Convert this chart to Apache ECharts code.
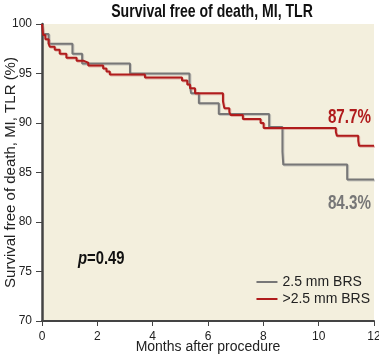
<!DOCTYPE html>
<html><head><meta charset="utf-8">
<script src="https://cdn.jsdelivr.net/npm/echarts@6/dist/echarts.min.js"></script>
<style>html,body{margin:0;padding:0;background:#fff}#c{width:379px;height:359px}</style>
</head><body><div id="c"></div>
<script>
// Kaplan-Meier steps: [month, survival %], value held until next month
var smallMonths = [0, 0.03, 0.24, 1.1, 1.45, 3.18, 5.33, 5.39, 5.67, 6.39, 8.21, 8.69, 8.72, 11.03, 12];
var smallValues = [100, 99.0, 98.0, 97.0, 96.0, 95.0, 94.0, 93.0, 92.0, 90.9, 89.6, 87.1, 85.8, 84.3, 84.3];
var largeMonths = [0, 0.04, 0.12, 0.24, 0.28, 0.46, 0.64, 0.88, 1.25, 1.49, 1.67, 2.21, 2.33, 2.45, 3.72, 5.06, 5.25, 5.35, 5.53, 6.54, 6.59, 6.77, 6.82, 7.26, 7.9, 8.01, 10.62, 10.66, 11.43, 11.46, 12];
var largeValues = [100, 98.9, 98.45, 98.0, 97.7, 97.4, 97.0, 96.6, 96.3, 96.1, 95.8, 95.5, 95.2, 94.9, 94.6, 94.3, 93.9, 93.5, 93.0, 92.2, 91.5, 91.1, 90.8, 90.4, 90.0, 89.5, 89.1, 88.7, 88.2, 87.7, 87.7];
var seriesNames = ['2.5 mm BRS', '>2.5 mm BRS'];
var endLabels = ['84.3%', '87.7%'];
var pText = '0.49';
var titleText = 'Survival free of death, MI, TLR';
var xTicks = [0, 2, 4, 6, 8, 10, 12];
var yTicks = [70, 75, 80, 85, 90, 95, 100];

function pairs(xs, ys){ return xs.map(function(x,i){ return [x, ys[i]]; }); }

var sans = "'Liberation Sans',Arial,sans-serif";
var chart = echarts.init(document.getElementById('c'), null, {renderer:'canvas'});
var grayC = '#777777', redC = '#b01c1c';
chart.setOption({
  animation:false,
  backgroundColor:'#ffffff',
  grid:{left:42, right:5, top:24, bottom:38, show:true, backgroundColor:'#f3efdd', borderWidth:0,
    containLabel:false, outerBoundsMode:'none'},
  legend:{right:4, bottom:48, orient:'vertical', itemWidth:21, itemHeight:2, itemGap:3,
    icon:'rect', align:'left',
    data:seriesNames,
    textStyle:{fontFamily:sans, fontSize:14, color:'#222', width:84, align:'right'}},
  xAxis:{type:'value', min:0, max:12, interval:2,
    name:'Months after procedure', nameLocation:'middle', nameGap:19, nameMoveOverlap:false,
    nameTextStyle:{fontFamily:sans, fontSize:14, color:'#222'},
    axisLine:{lineStyle:{color:'#444', width:2}},
    axisTick:{length:5, lineStyle:{color:'#444', width:1}},
    axisLabel:{fontFamily:sans, fontSize:12, color:'#222', margin:10,
      formatter:function(v){ return xTicks.indexOf(v)>=0 ? String(v) : ''; }},
    splitLine:{show:false}},
  yAxis:{type:'value', min:70, max:100, interval:5,
    name:'Survival free of death, MI, TLR (%)', nameLocation:'middle', nameGap:24, nameMoveOverlap:false,
    nameTextStyle:{fontFamily:sans, fontSize:15, color:'#222'},
    axisLine:{show:true, lineStyle:{color:'#444', width:2.5}},
    axisTick:{show:true, length:6, lineStyle:{color:'#444', width:1}},
    axisLabel:{fontFamily:sans, fontSize:12, color:'#222', margin:10,
      formatter:function(v){ return yTicks.indexOf(v)>=0 ? String(v) : ''; }},
    splitLine:{show:false}},
  series:[
    {name:seriesNames[0], type:'line', step:'end', symbol:'none', data:pairs(smallMonths, smallValues),
      itemStyle:{color:grayC},
      lineStyle:{color:grayC, width:2, shadowColor:'rgba(160,160,160,0.5)', shadowOffsetX:1, shadowOffsetY:1}},
    {name:seriesNames[1], type:'line', step:'end', symbol:'none', data:pairs(largeMonths, largeValues),
      itemStyle:{color:redC},
      lineStyle:{color:redC, width:2, shadowColor:'rgba(200,90,90,0.4)', shadowOffsetX:1, shadowOffsetY:1}}
  ]
});
var pR = chart.convertToPixel({xAxisIndex:0, yAxisIndex:0}, [12, largeValues[largeValues.length-1]]);
var pG = chart.convertToPixel({xAxisIndex:0, yAxisIndex:0}, [12, smallValues[smallValues.length-1]]);
var pP = chart.convertToPixel({xAxisIndex:0, yAxisIndex:0}, [1.3, 77.2]);
chart.setOption({graphic:[
  {type:'text', x:212, y:2, scaleX:0.74, style:{text:titleText, fill:'#111', font:'bold 19px '+sans, textAlign:'center'}},
  {type:'text', x:pR[0]-3, y:pR[1]-38, scaleX:0.76, style:{text:endLabels[1], fill:redC, font:'bold 20px '+sans, textAlign:'right'}},
  {type:'text', x:pG[0]-3, y:pG[1]+14, scaleX:0.76, style:{text:endLabels[0], fill:grayC, font:'bold 20px '+sans, textAlign:'right'}},
  {type:'text', x:pP[0], y:pP[1], scaleX:0.78, style:{text:'{i|p}{b|='+pText+'}', rich:{
     i:{font:'italic bold 19px '+sans, fill:'#111'},
     b:{font:'bold 19px '+sans, fill:'#111'}}}}
]});
</script></body></html>
